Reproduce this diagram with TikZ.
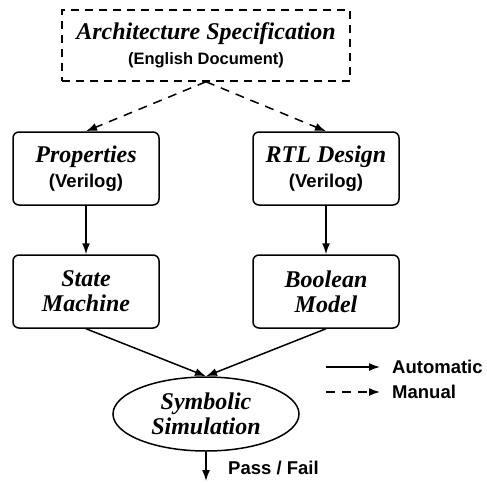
\documentclass[tikz,border=0pt]{standalone}
\usepackage{fontspec}
\setmainfont{Liberation Serif}
\setsansfont{Liberation Sans}
\usetikzlibrary{arrows.meta,shapes.geometric}

\tikzset{
    block/.style={draw, line width=1.5pt, rounded corners=6pt, align=center,
        minimum width=146pt, minimum height=73pt, inner sep=0pt,
        font=\fontsize{24}{25}\selectfont\bfseries\itshape},
    specbox/.style={block, rounded corners=0pt, dash pattern=on 8pt off 6pt,
        minimum width=288pt, minimum height=71pt},
    simnode/.style={block, ellipse, rounded corners=0pt,
        minimum width=186pt, minimum height=74pt},
    flow/.style={-{Latex[length=11pt,width=8pt]}, line width=1.5pt},
    manual/.style={flow, dash pattern=on 9pt off 7pt},
    note/.style={anchor=west, inner sep=0pt, font=\fontsize{18.5}{20}\selectfont\sffamily\bfseries}
}
\newcommand{\lang}[2][18.5]{{\fontsize{#1}{25}\selectfont\sffamily\bfseries\upshape #2}}

\begin{document}
\begin{tikzpicture}[x=1pt,y=-1pt]
    \useasboundingbox (0,0) rectangle (487,482);
    % document and the two models
    \node[specbox] (spec) at (206,45.5) {Architecture Specification\\\lang[16.5]{(English Document)}};
    \node[block] (prop) at (86,168.5) {Properties\\\lang{(Verilog)}};
    \node[block] (rtl) at (326,168.5) {RTL Design\\\lang{(Verilog)}};
    \node[block] (fsm) at (86,291.5) {State\\Machine};
    \node[block] (bool) at (326,291.5) {Boolean\\Model};
    \node[simnode] (sim) at (206,414) {Symbolic\\Simulation};
    \coordinate (out) at (206,481);
    \node[note] (res) at (228,468) {Pass / Fail};

    \draw[manual] (spec.south) -- (prop.north);
    \draw[manual] (spec.south) -- (rtl.north);
    \draw[flow] (prop) -- (fsm);
    \draw[flow] (rtl) -- (bool);
    \draw[flow] (fsm.south) -- (sim.north);
    \draw[flow] (bool.south) -- (sim.north);
    \draw[flow] (sim) -- (out);

    % legend
    \foreach \y/\s/\t in {367/flow/Automatic, 392/manual/Manual} {
        \coordinate (l\t) at (326,\y);
        \coordinate (r\t) at (380,\y);
        \draw[\s] (l\t) -- (r\t);
        \node[note] (n\t) at (392,\y) {\t};
    }
\end{tikzpicture}
\end{document}
